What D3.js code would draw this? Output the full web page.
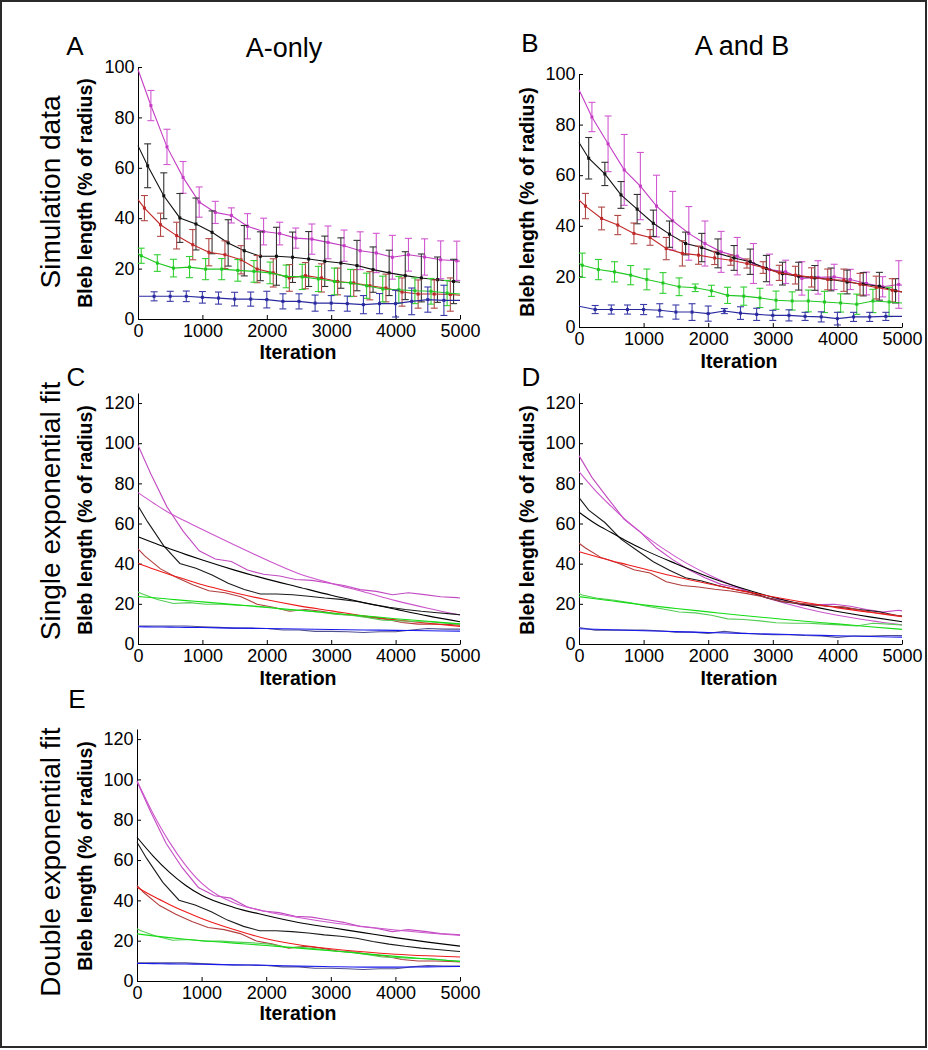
<!DOCTYPE html>
<html>
<head>
<meta charset="utf-8">
<script src="https://cdn.jsdelivr.net/npm/d3@7"></script>
<style>
  body { margin: 0; background: #fff; }
  svg text { font-family: "Liberation Sans", Arial, sans-serif; }
</style>
</head>
<body>
<script>
// ---- data ----
const iterTicks = [0, 1000, 2000, 3000, 4000, 5000]
const simTicks = [0, 20, 40, 60, 80, 100]
const fitTicks = [0, 20, 40, 60, 80, 100, 120]

// iterations of the plotted mean points (error bar positions), plus both ends
const itMagenta = [0, 200, 450, 700, 950, 1200, 1450, 1700, 1950, 2200, 2450, 2700, 2950, 3200, 3450, 3700, 3950, 4200, 4450, 4700, 4950, 5000]
const itBlack = [0, 150, 400, 650, 900, 1150, 1400, 1650, 1900, 2150, 2400, 2650, 2900, 3150, 3400, 3650, 3900, 4150, 4400, 4650, 4900, 5000]
const itRed = [0, 100, 350, 600, 850, 1100, 1350, 1600, 1850, 2100, 2350, 2600, 2850, 3100, 3350, 3600, 3850, 4100, 4350, 4600, 4850, 5000]
const itGreen = [0, 50, 300, 550, 800, 1050, 1300, 1550, 1800, 2050, 2300, 2550, 2800, 3050, 3300, 3550, 3800, 4050, 4300, 4550, 4800, 5000]
const itBlue = [0, 250, 500, 750, 1000, 1250, 1500, 1750, 2000, 2250, 2500, 2750, 3000, 3250, 3500, 3750, 4000, 4250, 4500, 4750, 5000]

// A-only simulations: mean and error (half-length of bar)
const aMagentaMean = [99, 84.7, 68.3, 56.2, 46.4, 42.3, 41.1, 36.8, 34.7, 33.9, 32.1, 31.7, 30.4, 29.1, 27.1, 26.2, 24.5, 25.5, 24.6, 23.5, 23.1, 22.9]
const aMagentaErr = [null, 6, 7, 6.3, 6, 4.4, 3, 5, 5.3, 4.5, 4, 6, 6.5, 6.2, 7.5, 7.8, 8.7, 6.5, 7.2, 7.5, 7.8, null]
const aBlackMean = [68.8, 60.8, 48.9, 40.1, 37.7, 34.4, 30.2, 27.1, 24.9, 24.9, 24.5, 23.8, 22.9, 22.2, 21.2, 19.6, 18.3, 17.2, 16.3, 15.6, 14.9, 14.6]
const aBlackErr = [null, 8.7, 9.1, 9.7, 10.3, 8.5, 9.2, 10, 9.7, 11.5, 10, 10.9, 10, 10, 10, 9, 9, 9.5, 9.5, 9, 8.8, null]
const aRedMean = [47.4, 44, 37.4, 33.1, 29.5, 26.5, 25.5, 23.5, 19.8, 18.3, 16.3, 17.2, 16.3, 14.9, 14.3, 13.2, 12.3, 10.7, 9.9, 9.9, 9.7, 9.4]
const aRedErr = [null, 5, 4.6, 5.3, 6, 5.4, 5.5, 5.6, 5.4, 5.6, 5.3, 5.2, 5.6, 5.3, 5.3, 5.6, 5.5, 5.6, 5.6, 5.6, 6.6, null]
const aGreenMean = [25.9, 25.1, 22.2, 20.2, 20.6, 19.8, 19.8, 19.3, 18.9, 18.3, 16.9, 16.7, 15.9, 14.9, 14.3, 13.2, 11.9, 11.6, 11.2, 11, 10.3, 9.9]
const aGreenErr = [null, 3, 3.3, 3.5, 4.2, 4.2, 4.2, 4.3, 4.3, 4.3, 4.5, 5, 5, 5.3, 5.4, 5, 5.1, 5.3, 5.1, 5.1, 5, null]
const aBlueMean = [9, 9, 9, 9, 8.6, 8.3, 7.9, 7.9, 7.7, 7, 7, 6.3, 6.3, 6.1, 5.7, 6.1, 6.1, 7, 7.7, 7.4, 7.4]
const aBlueErr = [null, 1.8, 2, 2.1, 2.3, 2.4, 2.7, 2.8, 3.3, 3, 3, 3.2, 3, 3, 3.6, 4, 5.3, 5.3, 5, 6, null]

// A and B simulations
const bMagentaMean = [93.8, 83, 72.4, 62.1, 55.7, 47.8, 42, 37, 33, 29.7, 28, 25.1, 22.7, 21.8, 19.2, 19.6, 19.8, 18.8, 17.2, 15.9, 16.8, 16.5]
const bMagentaErr = [null, 5.8, 11, 14, 13.3, 12.2, 11.6, 10.6, 8.9, 8.1, 7.4, 7.9, 6.1, 4.6, 6.6, 6.6, 5, 4, 4.5, 4, 9.4, null]
const bBlackMean = [72.9, 66.7, 60.5, 52.2, 46.6, 41, 36.7, 33, 31.4, 29.1, 27.3, 25.8, 23.1, 21.1, 20.1, 19.4, 18.8, 17.8, 16.9, 16.1, 14.3, 13.9]
const bBlackErr = [null, 8.2, 4.6, 5.3, 5.8, 5.2, 5.2, 4.5, 5.6, 5.7, 4.9, 5, 5.2, 4.5, 5.5, 4.9, 4.5, 4.7, 4.6, 5.5, 4.8, null]
const bRedMean = [50.2, 47.8, 42.9, 40.3, 37, 35.4, 31, 29.1, 28.4, 27.3, 26.4, 25.1, 23.5, 21.4, 20.5, 19.6, 18.8, 18.5, 16.9, 15.6, 14.5, 13.9]
const bRedErr = [null, 5, 4.5, 3.8, 4.1, 3.1, 4.4, 5, 3.6, 2.6, 2, 1.8, 2.3, 3, 3.5, 3.8, 4.1, 4.4, 4.3, 4.5, 4.6, null]
const bGreenMean = [25.1, 24.4, 22.7, 21.8, 20.5, 18.8, 17.4, 15.9, 15.5, 14.3, 12.5, 12.2, 11.5, 10.6, 10.3, 10.3, 9.9, 9.5, 9, 10.3, 9.9, 9.5]
const bGreenErr = [null, 4.8, 4, 4, 3.8, 4.1, 4.1, 3.5, 1.5, 2.2, 3.2, 3.6, 3.8, 3.6, 3.6, 4.3, 4.2, 3.6, 4, 4.6, 5.8, null]
const bBlueMean = [8.2, 6.9, 6.9, 6.9, 6.9, 6.6, 5.9, 5.9, 5.3, 6.3, 5.5, 5, 4.6, 4.6, 4.2, 4, 3.3, 4, 4, 4.2, 4.2]
const bBlueErr = [null, 1.6, 1.8, 1.8, 2, 2.6, 2.8, 3.3, 3, 1, 2.5, 2.4, 2, 2.2, 1.6, 2, 2.5, 1.8, 1.8, 1.6, null]

// fitted curves, sampled at these iterations
const fitIter = [0, 250, 500, 750, 1000, 1500, 2000, 2500, 3000, 3500, 4000, 4500, 5000]
// single exponential fit, A-only
const cMagentaFit = [75.4, 70, 65, 61, 57, 49.3, 41.8, 35, 30.2, 26, 21.6, 17.8, 14.4]
const cBlackFit = [53.4, 50.3, 47.3, 44.5, 41.8, 36.8, 32.3, 28.3, 24.3, 20.7, 17.3, 14, 11.1]
const cRedFit = [40.2, 37.2, 34.5, 32, 29.5, 25.5, 22, 19, 16.5, 14, 12, 10.3, 8.8]
const cGreenFit = [23.6, 23, 22.3, 21.6, 21, 19.6, 18.2, 16.8, 15.4, 14, 12.6, 11.3, 10]
const cBlueFit = [8.6, 8.5, 8.4, 8.3, 8.2, 7.9, 7.7, 7.5, 7.2, 7, 6.8, 6.6, 6.4]
// single exponential fit, A and B
const dMagentaFit = [85.8, 76.5, 68.5, 61, 54.5, 43.4, 34.6, 27.6, 22, 17.7, 14.3, 11.7, 9.5]
const dBlackFit = [65.6, 60, 55.5, 51, 47, 40, 33.5, 28, 23.3, 19.5, 16.2, 13.5, 11.1]
const dRedFit = [46, 43.7, 41.5, 39.5, 37.5, 33.5, 30, 26.6, 23.5, 20.7, 18, 15.8, 13.6]
const dGreenFit = [23.6, 22.5, 21.5, 20.5, 19.5, 17.7, 16, 14.3, 12.8, 11.3, 10, 8.6, 7.3]
const dBlueFit = [7.6, 7.35, 7.1, 6.85, 6.6, 6.15, 5.7, 5.3, 4.9, 4.5, 4.1, 3.7, 3.4]
// double exponential fit, A-only
const eMagentaFit = [99.3, 83, 69, 57.5, 48.5, 38.8, 34.5, 31.5, 29, 27, 25.3, 23.8, 22.6]
const eBlackFit = [71.3, 62, 54, 47.5, 42.5, 36.5, 32.5, 29, 26.5, 24, 21.5, 19.3, 17.3]
const eRedFit = [46.5, 42, 38, 34.3, 31, 25.5, 21, 18, 16, 14.5, 13.3, 12.5, 11.9]
const eGreenFit = [23.4, 22.4, 21.5, 20.7, 20, 18.8, 17.6, 16.3, 15, 13.6, 12.2, 10.9, 9.7]
const eBlueFit = [8.7, 8.6, 8.5, 8.4, 8.3, 8, 7.8, 7.4, 7.1, 6.9, 6.9, 7, 7.2]

// ---- styles ----
const lineColors = ['#c43cc4', '#111111', '#c02828', '#22c822', '#2a2aa0']
const barColors = ['#d058d0', '#333333', '#b04848', '#33d033', '#3a3aa8']
const dataColors = ['#c24ac2', '#1a1a1a', '#b03c3c', '#55cc55', '#505090']
const fitColors = ['#cc55cc', '#000000', '#ee1a1a', '#14dd14', '#1818ee']

const iters = [itMagenta, itBlack, itRed, itGreen, itBlue]
const aMeans = [aMagentaMean, aBlackMean, aRedMean, aGreenMean, aBlueMean]
const aErrs = [aMagentaErr, aBlackErr, aRedErr, aGreenErr, aBlueErr]
const bMeans = [bMagentaMean, bBlackMean, bRedMean, bGreenMean, bBlueMean]
const bErrs = [bMagentaErr, bBlackErr, bRedErr, bGreenErr, bBlueErr]
const cFits = [cMagentaFit, cBlackFit, cRedFit, cGreenFit, cBlueFit]
const dFits = [dMagentaFit, dBlackFit, dRedFit, dGreenFit, dBlueFit]
const eFits = [eMagentaFit, eBlackFit, eRedFit, eGreenFit, eBlueFit]

const FONT = '"Liberation Sans", Arial, sans-serif'

const svg = d3.select('body').append('svg')
  .attr('width', 928)
  .attr('height', 1050)

svg.append('rect')
  .attr('x', 1).attr('y', 1)
  .attr('width', 925).attr('height', 1046)
  .attr('fill', '#fff')
  .attr('stroke', '#2a2a2a')
  .attr('stroke-width', 2)

function panel (p) {
  const x = d3.scaleLinear().domain([0, 5000]).range([p.left, p.right])
  const y = d3.scaleLinear().domain([0, p.yMax]).range([p.bottom, p.top])
  const g = svg.append('g')

  const xAxis = g.append('g')
    .attr('transform', `translate(0,${p.bottom})`)
    .call(d3.axisBottom(x).tickValues(iterTicks).tickFormat(d3.format('d'))
      .tickSizeInner(-4).tickSizeOuter(0).tickPadding(5.5))
  const yAxis = g.append('g')
    .attr('transform', `translate(${p.left},0)`)
    .call(d3.axisLeft(y).tickValues(p.ticks).tickFormat(d3.format('d'))
      .tickSizeInner(-4).tickSizeOuter(0).tickPadding(3.5))
  for (const ax of [xAxis, yAxis]) {
    ax.attr('font-size', 18).attr('font-family', FONT)
    ax.selectAll('text').attr('fill', '#000')
    ax.selectAll('path, line').attr('stroke', '#000')
  }

  const line = d3.line().x(d => x(d[0])).y(d => y(d[1]))
  const smooth = d3.line().curve(d3.curveMonotoneX).x(d => x(d[0])).y(d => y(d[1]))
  const plot = g.append('g').attr('fill', 'none')

  p.series.forEach((s, k) => {
    const pts = s.it.map((t, i) => [t, s.mean[i]])
    plot.append('path')
      .attr('d', line(pts))
      .attr('stroke', s.color)
      .attr('stroke-width', 1.1)

    if (s.err) {
      const bars = plot.append('g').attr('stroke', s.barColor).attr('stroke-width', 1.1)
      pts.forEach((d, i) => {
        const e = s.err[i]
        if (e == null) return
        const cx = x(d[0])
        const y1 = y(d[1] - e)
        const y2 = y(Math.min(d[1] + e, p.yMax))
        bars.append('line').attr('x1', cx).attr('x2', cx).attr('y1', y1).attr('y2', y2)
        bars.append('line').attr('x1', cx - 3.5).attr('x2', cx + 3.5).attr('y1', y1).attr('y2', y1)
        bars.append('line').attr('x1', cx - 3.5).attr('x2', cx + 3.5).attr('y1', y2).attr('y2', y2)
        plot.append('rect')
          .attr('x', cx - 1.5).attr('y', y(d[1]) - 1.5)
          .attr('width', 3).attr('height', 3)
          .attr('fill', s.color)
      })
    }
    if (s.fit) {
      plot.append('path')
        .attr('d', smooth(fitIter.map((t, i) => [t, s.fit[i]])))
        .attr('stroke', s.fitColor)
        .attr('stroke-width', 1.1)
    }
  })

  // y label, x label
  g.append('text')
    .attr('transform', `translate(${p.yLab[0]},${p.yLab[1]}) rotate(-90)`)
    .attr('text-anchor', 'middle')
    .attr('font-size', 19.5).attr('font-weight', 'bold')
    .text('Bleb length (% of radius)')
  g.append('text')
    .attr('x', p.xLab[0]).attr('y', p.xLab[1])
    .attr('text-anchor', 'middle')
    .attr('font-size', 19.5).attr('font-weight', 'bold')
    .text('Iteration')
  g.append('text')
    .attr('x', p.letter[0]).attr('y', p.letter[1])
    .attr('text-anchor', 'middle')
    .attr('font-size', 26)
    .text(p.name)
  if (p.title) {
    g.append('text')
      .attr('x', p.title[0]).attr('y', p.title[1])
      .attr('text-anchor', 'middle')
      .attr('font-size', 27)
      .text(p.title[2])
  }
  if (p.row) {
    g.append('text')
      .attr('transform', `translate(${p.row[0]},${p.row[1]}) rotate(-90)`)
      .attr('text-anchor', 'middle')
      .attr('font-size', 28)
      .text(p.row[2])
  }
}

const simSeries = (means, errs) => means.map((m, k) => ({
  it: iters[k], mean: m, err: errs[k], color: lineColors[k], barColor: barColors[k]
}))
const fitSeries = (means, fits) => means.map((m, k) => ({
  it: iters[k], mean: m, color: dataColors[k], fit: fits[k], fitColor: fitColors[k]
}))

panel({
  name: 'A', left: 138, right: 460, bottom: 319, top: 67, yMax: 100, ticks: simTicks,
  series: simSeries(aMeans, aErrs),
  yLab: [92, 193], xLab: [298, 359], letter: [75, 55],
  title: [284, 57, 'A-only'], row: [60, 192, 'Simulation data']
})
panel({
  name: 'B', left: 579, right: 902, bottom: 327, top: 74, yMax: 100, ticks: simTicks,
  series: simSeries(bMeans, bErrs),
  yLab: [534, 202], xLab: [739, 368], letter: [530, 52],
  title: [742, 55, 'A and B']
})
panel({
  name: 'C', left: 138, right: 460, bottom: 644, top: 393, yMax: 125, ticks: fitTicks,
  series: fitSeries(aMeans, cFits),
  yLab: [92, 520], xLab: [298, 685], letter: [76, 386],
  row: [60, 511, 'Single exponential fit']
})
panel({
  name: 'D', left: 579, right: 902, bottom: 644, top: 393, yMax: 125, ticks: fitTicks,
  series: fitSeries(bMeans, dFits),
  yLab: [534, 520], xLab: [739, 685], letter: [531, 386]
})
panel({
  name: 'E', left: 137, right: 460, bottom: 981, top: 729, yMax: 125, ticks: fitTicks,
  series: fitSeries(aMeans, eFits),
  yLab: [92, 856], xLab: [298, 1020], letter: [77, 708],
  row: [60, 862, 'Double exponential fit']
})
</script>
</body>
</html>
